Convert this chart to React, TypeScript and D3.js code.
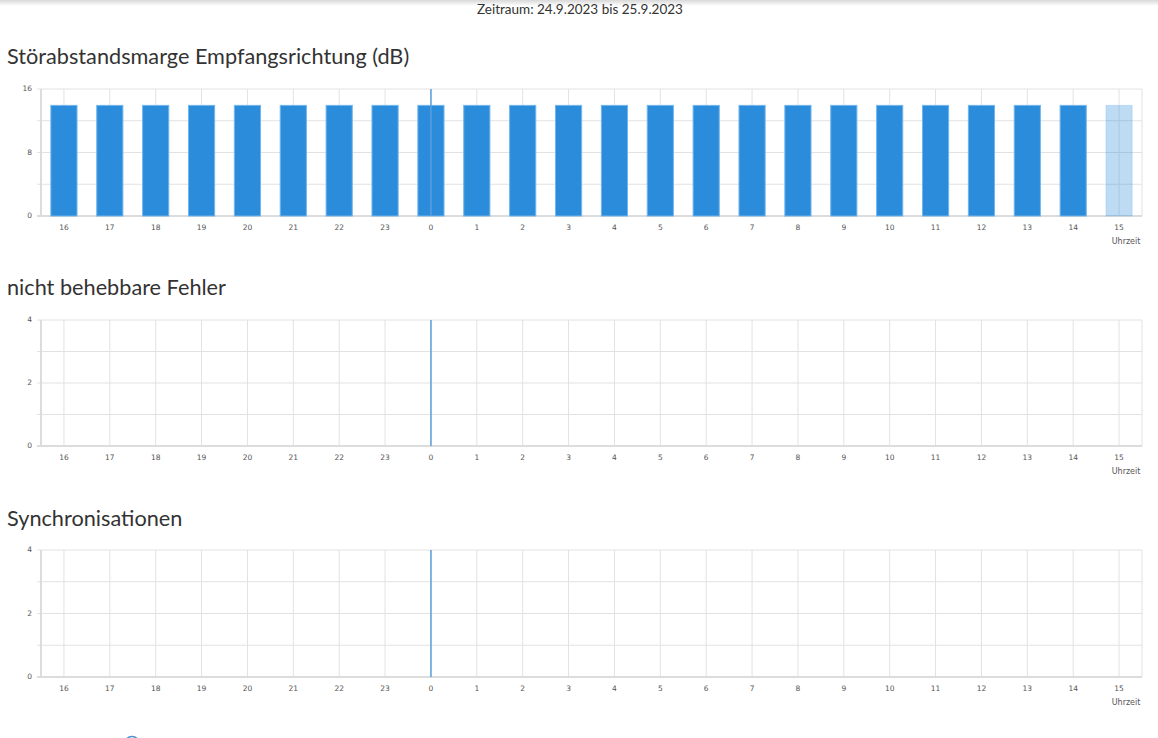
import React from "react";
import * as d3 from "d3";

const hours = ["16","17","18","19","20","21","22","23","0","1","2","3","4","5","6","7","8","9","10","11","12","13","14","15"];
const snrValues = [14,14,14,14,14,14,14,14,14,14,14,14,14,14,14,14,14,14,14,14,14,14,14,14];
const errorValues = [0,0,0,0,0,0,0,0,0,0,0,0,0,0,0,0,0,0,0,0,0,0,0,0];
const syncValues = [0,0,0,0,0,0,0,0,0,0,0,0,0,0,0,0,0,0,0,0,0,0,0,0];
const snrTicks = [0,4,8,12,16];
const snrLabels = [0,8,16];
const countTicks = [0,1,2,3,4];
const countLabels = [0,2,4];
const markerHour = "0";
const currentHour = "15";
const headerText = "Zeitraum: 24.9.2023 bis 25.9.2023";
const xAxisName = "Uhrzeit";

const W = 1158;
const H = 738;
const LEFT = 41;
const RIGHT = 1142;
const titleFont = "Lato, 'Open Sans', sans-serif";
const tickFont = "'DejaVu Sans', Verdana, sans-serif";

type ChartProps = {
  title: string;
  titleY: number;
  top: number;
  bottom: number;
  values: number[];
  yMax: number;
  ticks: number[];
  labels: number[];
};

function Chart({ title, titleY, top, bottom, values, yMax, ticks, labels }: ChartProps) {
  const x = d3.scaleBand<string>().domain(hours).range([LEFT, RIGHT]).paddingInner(0).paddingOuter(0);
  const y = d3.scaleLinear().domain([0, yMax]).range([bottom, top]);
  const bw = x.bandwidth() * 0.57;
  const cx = (h: string) => (x(h) as number) + x.bandwidth() / 2;
  return (
    <g>
      <text x={7} y={titleY} fontFamily={titleFont} fontSize={21.7} fill="#333" dominantBaseline="middle">{title}</text>
      {ticks.map((t) => (
        <line key={"h" + t} x1={LEFT - 4} x2={RIGHT} y1={y(t)} y2={y(t)} stroke="#e2e2e2" strokeWidth={1} />
      ))}
      {hours.map((h) => (
        <line key={"v" + h} x1={cx(h)} x2={cx(h)} y1={top} y2={bottom} stroke="#e2e2e2" strokeWidth={1} />
      ))}
      <line x1={RIGHT} x2={RIGHT} y1={top} y2={bottom} stroke="#e2e2e2" strokeWidth={1} />
      <line x1={LEFT} x2={LEFT} y1={top} y2={bottom + 1} stroke="#dcdcdc" strokeWidth={2} />
      <line x1={LEFT - 4} x2={RIGHT} y1={bottom} y2={bottom} stroke="#dcdcdc" strokeWidth={2} />
      {labels.map((t) => (
        <text key={"l" + t} x={32} y={y(t)} textAnchor="end" dominantBaseline="middle" fontFamily={tickFont} fontSize={7.5} fill="#555">{t}</text>
      ))}
      {values.map((v, i) => {
        const h = hours[i];
        if (v <= 0) return null;
        const cur = h === currentHour;
        return (
          <rect key={"b" + h} x={cx(h) - bw / 2} y={y(v) + 0.5} width={bw} height={y(0) - y(v) - 0.5}
            fill={cur ? "rgba(38,139,220,0.3)" : "#2a8cdb"}
            stroke={cur ? "rgba(110,180,235,0.3)" : "#72b5eb"} strokeWidth={1} />
        );
      })}
      <line x1={cx(markerHour)} x2={cx(markerHour)} y1={top} y2={bottom} stroke="#5a9fdc" strokeWidth={1.5} />
      {hours.map((h) => (
        <text key={"x" + h} x={cx(h)} y={bottom + 12} textAnchor="middle" dominantBaseline="middle" fontFamily={tickFont} fontSize={7.5} fill="#555">{h}</text>
      ))}
      <text x={cx(currentHour) + 7} y={bottom + 25} textAnchor="middle" dominantBaseline="middle" fontFamily={tickFont} fontSize={8} fill="#555">{xAxisName}</text>
    </g>
  );
}

export default function App() {
  return (
    <svg width={W} height={H} style={{ position: "absolute", left: 0, top: 0, background: "#fff" }}>
      <defs>
        <linearGradient id="shadow" x1="0" y1="0" x2="0" y2="1">
          <stop offset="0%" stopColor="#d8d8d8" />
          <stop offset="100%" stopColor="#ffffff" />
        </linearGradient>
      </defs>
      <rect x={0} y={0} width={W} height={H} fill="#fff" />
      <rect x={0} y={0} width={W} height={6} fill="url(#shadow)" />
      <text x={580} y={11} textAnchor="middle" dominantBaseline="middle" fontFamily={titleFont} fontSize={13.5} fill="#333">{headerText}</text>
      <Chart title="Störabstandsmarge Empfangsrichtung (dB)" titleY={58} top={89} bottom={216} values={snrValues} yMax={16} ticks={snrTicks} labels={snrLabels} />
      <Chart title="nicht behebbare Fehler" titleY={289} top={320} bottom={446} values={errorValues} yMax={4} ticks={countTicks} labels={countLabels} />
      <Chart title="Synchronisationen" titleY={520} top={550} bottom={677} values={syncValues} yMax={4} ticks={countTicks} labels={countLabels} />
      <circle cx={132} cy={744} r={7.5} fill="none" stroke="#4b93d6" strokeWidth={1.5} />
    </svg>
  );
}
